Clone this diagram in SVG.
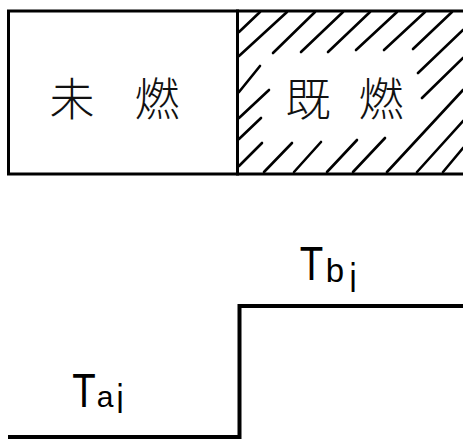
<svg xmlns="http://www.w3.org/2000/svg" width="463" height="439" viewBox="0 0 463 439">
<style>
.frame{fill:#fff;stroke:#000;stroke-width:3}
.hatch{stroke:#000;stroke-width:2.6;stroke-linecap:round;fill:none}
.cjk{font-family:"Noto Sans CJK JP","Noto Sans CJK SC",sans-serif;font-size:45px;font-weight:300;text-anchor:middle;fill:#111}
.lat{font-family:"Liberation Sans","DejaVu Sans",sans-serif;text-anchor:middle;fill:#000}
.step{fill:none;stroke:#000;stroke-width:4;stroke-linejoin:miter}
</style>
<rect width="463" height="439" fill="#fff"/>
<g id="unburned">
<rect class="frame" x="8.5" y="11" width="229" height="163"/>
<text class="cjk" x="72" y="116">未</text>
<text class="cjk" x="157" y="116">燃</text>
</g>
<g id="burned">
<rect class="frame" x="237.5" y="11" width="240" height="163"/>
<g id="hatching" class="hatch">
<line x1="260" y1="12" x2="239" y2="32"/>
<line x1="287" y1="12" x2="239" y2="56"/>
<line x1="315" y1="12" x2="273" y2="53"/>
<line x1="343" y1="12" x2="301" y2="52"/>
<line x1="370" y1="12" x2="328" y2="52"/>
<line x1="397" y1="12" x2="356" y2="50"/>
<line x1="425" y1="12" x2="384" y2="50"/>
<line x1="452" y1="12" x2="413" y2="49"/>
<line x1="463" y1="30" x2="418" y2="73"/>
<line x1="463" y1="58" x2="422" y2="98"/>
<line x1="463" y1="90" x2="387" y2="172"/>
<line x1="463" y1="121" x2="417" y2="172"/>
<line x1="463" y1="148" x2="443" y2="172"/>
<line x1="260" y1="66" x2="239" y2="92"/>
<line x1="269" y1="90" x2="239" y2="118"/>
<line x1="261" y1="118" x2="239" y2="139"/>
<line x1="262" y1="143" x2="239" y2="166"/>
<line x1="292" y1="143" x2="264" y2="172"/>
<line x1="321" y1="142" x2="294" y2="172"/>
<line x1="357" y1="140" x2="327" y2="172"/>
<line x1="385" y1="138" x2="353" y2="172"/>
</g>
<text class="cjk" x="308" y="116">既</text>
<text class="cjk" x="381" y="116">燃</text>
</g>
<g id="connectors">
<path class="step" d="M8 437 H239.5 V306 H463"/>
</g>
<g id="label-Ta">
<text class="lat" font-size="48" transform="translate(84,407) scale(0.8,1)">T</text>
<text class="lat" x="105" y="407" font-size="30">a</text>
<text class="lat" font-size="32" transform="translate(120,413) scale(1,1.25)">i</text>
</g>
<g id="label-Tb">
<text class="lat" font-size="48" transform="translate(311.5,280) scale(0.8,1)">T</text>
<text class="lat" x="335" y="282" font-size="33">b</text>
<text class="lat" font-size="32" transform="translate(353,292) scale(1,1.25)">i</text>
</g>
</svg>
